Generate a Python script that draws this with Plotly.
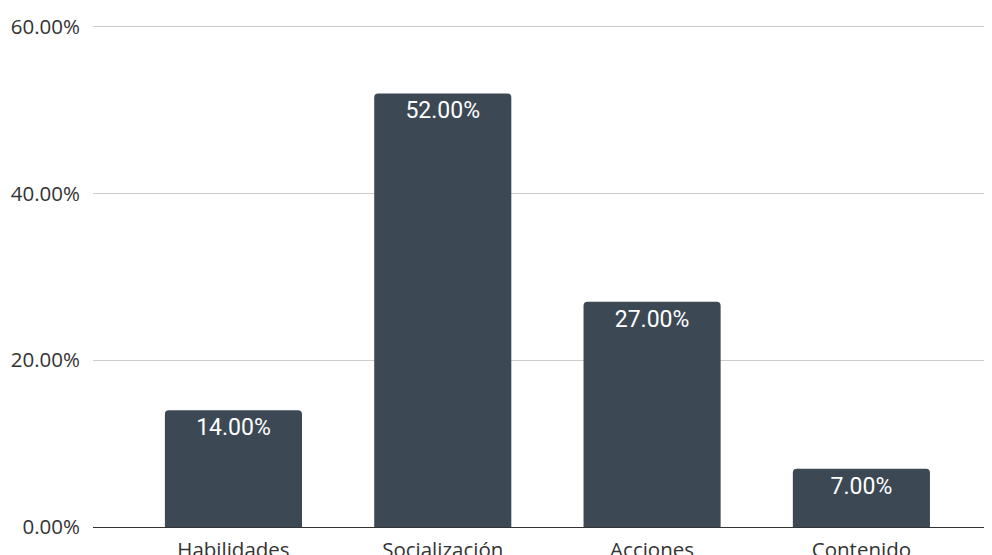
import plotly.graph_objects as go

categories = ["Habilidades", "Socialización", "Acciones", "Contenido"]
values = [14.0, 52.0, 27.0, 7.0]
labels = [f"{v:.2f}%" for v in values]
tick_vals = [0, 20, 40, 60]
tick_text = ["0.00%", "20.00%", "40.00%", "60.00%"]

fig = go.Figure(go.Bar(
    x=categories, y=values, text=labels,
    textposition="inside", insidetextanchor="end",
    textfont=dict(family="Roboto", size=23, color="white"),
    marker=dict(color="#3c4954", cornerradius=4, line=dict(width=0)),
    hoverinfo="skip",
))

fig.update_layout(
    width=992, height=555,
    margin=dict(l=85, r=8, t=17, b=36, autoexpand=False),
    plot_bgcolor="white", paper_bgcolor="white",
    bargap=0.345,
    showlegend=False,
    font=dict(family="Open Sans", size=20.5, color="#333"),
)
fig.update_xaxes(
    range=[-0.671, 3.624], showgrid=False, showline=False,
    tickfont=dict(family="Open Sans", size=20.5, color="#333"),
    ticks="", ticklabelstandoff=8, automargin=False, fixedrange=True,
)
fig.update_yaxes(
    range=[0, 60.2], tickvals=tick_vals, ticktext=tick_text,
    showgrid=True, gridcolor="#cccccc", gridwidth=1.3,
    zeroline=True, zerolinecolor="#333333", zerolinewidth=1.3,
    showline=False, ticks="", ticklabelstandoff=12, automargin=False,
    tickfont=dict(family="Open Sans", size=20.5, color="#333"),
)

fig.write_html("out.html")
